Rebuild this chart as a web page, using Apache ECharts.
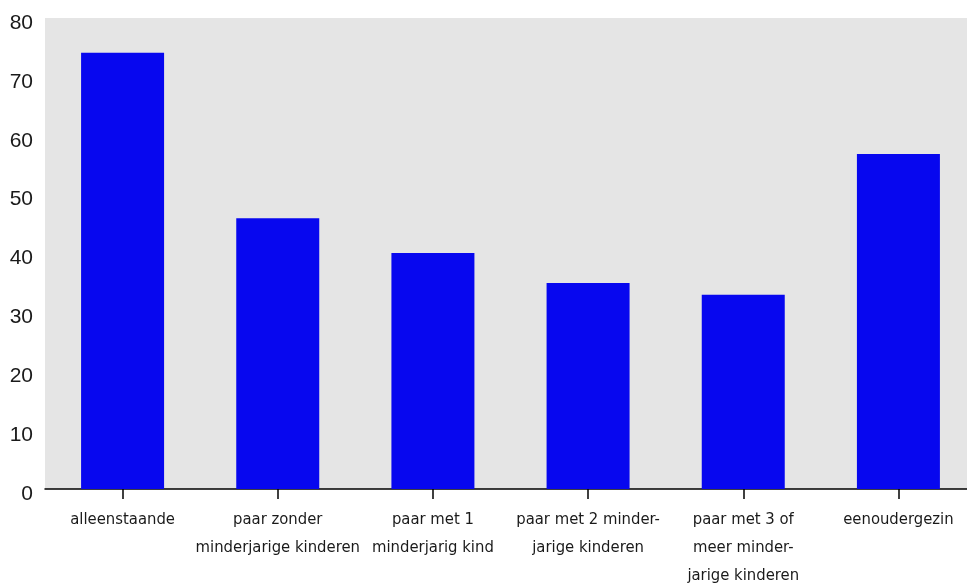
<!DOCTYPE html>
<html>
<head>
<meta charset="utf-8">
<script src="https://cdn.jsdelivr.net/npm/echarts@6/dist/echarts.min.js"></script>
<style>html,body{margin:0;padding:0;background:#fff}#c{width:967px;height:585px}</style>
</head>
<body>
<div id="c"></div>
<script>
const categories = [
  "alleenstaande",
  "paar zonder\nminderjarige kinderen",
  "paar met 1\nminderjarig kind",
  "paar met 2 minder-\njarige kinderen",
  "paar met 3 of\nmeer minder-\njarige kinderen",
  "eenoudergezin"
];
const values = [74.1, 46.0, 40.1, 35.0, 33.0, 56.9];
const yTicks = { min: 0, max: 80, interval: 10 };

const chart = echarts.init(document.getElementById('c'), null, { renderer: 'canvas' });
chart.setOption({
  animation: false,
  grid: {
    left: 45, top: 18, width: 931, height: 471,
    outerBoundsMode: 'none',
    show: true, backgroundColor: '#e5e5e5', borderWidth: 0, containLabel: false
  },
  xAxis: {
    type: 'category',
    data: categories,
    boundaryGap: true,
    axisLine: { show: true, lineStyle: { color: '#000', width: 1.5 } },
    axisTick: { show: true, alignWithLabel: true, length: 10, lineStyle: { color: '#000', width: 1.5 } },
    axisLabel: {
      interval: 0,
      color: '#1a1a1a',
      fontFamily: '"Liberation Sans Narrow", "DejaVu Sans Condensed", sans-serif',
      fontSize: 16.5,
      lineHeight: 28,
      margin: 17,
      align: 'center'
    },
    splitLine: { show: false }
  },
  yAxis: {
    type: 'value',
    min: yTicks.min, max: yTicks.max, interval: yTicks.interval,
    axisLine: { show: false },
    axisTick: { show: false },
    splitLine: { show: false },
    axisLabel: {
      color: '#1a1a1a',
      fontFamily: '"Liberation Sans", Arial, sans-serif',
      fontSize: 21,
      margin: 12,
      verticalAlign: 'top',
      lineHeight: 10
    }
  },
  series: [{
    type: 'bar',
    data: values,
    barWidth: 83,
    itemStyle: { color: '#0707ef' }
  }]
});
</script>
</body>
</html>
